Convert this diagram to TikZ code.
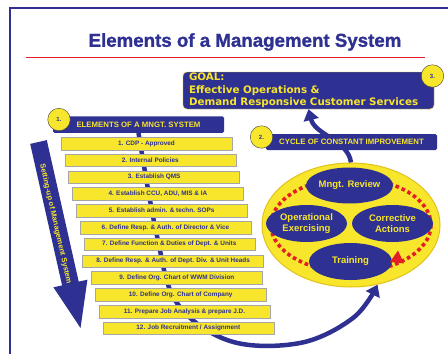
\documentclass[tikz,border=0pt]{standalone}
\usepackage{fontspec}
\setmainfont{Liberation Sans}
\newfontfamily\heavyfont{DejaVu Sans}
\newfontfamily\titlefont[FakeBold=1.2]{Liberation Sans}
\usetikzlibrary{arrows.meta,shapes.geometric}
\definecolor{mblue}{HTML}{2E3192}
\definecolor{myellow}{HTML}{F7E62B}
\definecolor{ringgold}{HTML}{E2C21A}
\definecolor{loopred}{HTML}{E31E24}
\pgfdeclarelayer{bg}
\pgfsetlayers{bg,main}
\begin{document}
\begin{tikzpicture}[x=1pt,y=-1pt,
	item/.style={draw=gray!70, fill=myellow, minimum width=171pt, minimum height=12.5pt, inner sep=0pt, text=mblue, font=\bfseries\fontsize{6.4}{7}\selectfont},
	bar/.style={fill=mblue, text=myellow, minimum width=171pt, minimum height=16.5pt, inner sep=0pt, rounded corners=1.5pt, font=\bfseries\fontsize{7.8}{8}\selectfont},
	badge/.style={circle, draw=gray!50!black, thin, fill=myellow, minimum size=22.5pt, inner sep=0pt, text=mblue, font=\bfseries\fontsize{6}{6}\selectfont},
	blob/.style={ellipse, fill=mblue, text=myellow, minimum width=81pt, minimum height=36pt, inner sep=0pt, align=center, font=\bfseries\fontsize{9.5}{11.5}\selectfont},
	flow/.style={mblue, line width=4.5pt, -{Triangle[width=15pt,length=11pt]}}]
	\useasboundingbox (0,0) rectangle (448,354);
	\begin{pgfonlayer}{bg}
	\fill[white] (0,0) rectangle (448,354);
	\end{pgfonlayer}
	% frame and title
	\draw[mblue, line width=2pt] (9.5,354) -- (9.5,8) -- (448,8);
	\node[text=mblue, font=\titlefont\bfseries\fontsize{18.7}{19}\selectfont] (title) at (245,42) {Elements of a Management System};
	\draw[loopred, line width=1pt] (26,57) -- (425,57);
	% goal
	\node[fill=mblue, draw=ringgold, rounded corners=4pt, minimum width=251pt, minimum height=37pt, inner xsep=6pt, inner ysep=0pt, text width=239pt, align=left, text=myellow, font=\heavyfont\bfseries\fontsize{10.3}{12.5}\selectfont] (goal) at (308.5,90.5) {GOAL:\\Effective Operations \&\\Demand Responsive Customer Services};
	\node[badge] (n3) at (432.5,76) {3.};
	% setting-up arrow
	\fill[mblue] (30.2,143.9) -- (46.8,140.1) -- (78.7,281.6) -- (87.4,279.7) -- (80.5,328) -- (53.4,287.3) -- (62.1,285.4) -- cycle;
	\node[rotate=-77.3, text=myellow, font=\bfseries\fontsize{7.5}{8}\selectfont] (setup) at (55.5,224) {Setting-up of Management System};
	% elements
	\node[bar] (elements) at (138.5,124.5) {ELEMENTS OF A MNGT. SYSTEM};
	\node[badge] (n1) at (59,119.5) {1.};
	\foreach \i/\w/\txt in {1/171/{1. CDP - Approved}, 2/171/{2. Internal Policies}, 3/171/{3. Establish QMS}, 4/171/{4. Establish CCU, ADU, MIS \& IA}, 5/171/{5. Establish admin. \& techn. SOPs}, 6/171/{6. Define Resp. \& Auth. of Director \& Vice}, 7/171/{7. Define Function \& Duties of Dept. \& Units}, 8/181/{8. Define Resp. \& Auth. of Dept. Div. \& Unit Heads}, 9/171/{9. Define Org. Chart of WWM Division}, 10/171/{10. Define Org. Chart of Company}, 11/171/{11. Prepare Job Analysis \& prepare J.D.}, 12/171/{12. Job Recruitment / Assignment}}
	\node[item, minimum width=\w pt] (item\i) at ({146.5+3.8*(\i-1)},{143.5+16.8*(\i-1)}) {\txt};
	% cycle
	\node[bar, minimum height=16pt] (cyclebar) at (351.5,142) {CYCLE OF CONSTANT IMPROVEMENT};
	\node[badge] (n2) at (261.5,137) {2.};
	\node[ellipse, fill=myellow, draw=ringgold, line width=1pt, minimum width=178pt, minimum height=124pt] (ring) at (351,225) {};
	\draw[loopred, line width=3.6pt, dash pattern=on 3.6pt off 3pt] (ring.center) ellipse [x radius=80, y radius=47];
	\node[blob] (review) at (349.5,185.5) {Mngt. Review};
	\node[blob, minimum height=37pt] (exercise) at (306.5,223.5) {Operational\\Exercising};
	\node[blob, minimum height=37pt] (correct) at (392.5,223.5) {Corrective\\Actions};
	\node[blob, minimum width=83pt, minimum height=37pt] (training) at (350.5,261.5) {Training};
	\fill[loopred] (390,262) -- (398,250.6) -- (404,263.4) -- cycle;
	% connectors
	\begin{pgfonlayer}{bg}
	\draw[flow] plot[smooth, tension=0.6] coordinates {(elements.south) (157,236) (177,303) (230,341) (300,343) (353,318) (ring.-66)};
	\draw[flow] (ring.north) .. controls (348,140) and (315,135) .. (goal.south);
	\end{pgfonlayer}
\end{tikzpicture}
\end{document}
